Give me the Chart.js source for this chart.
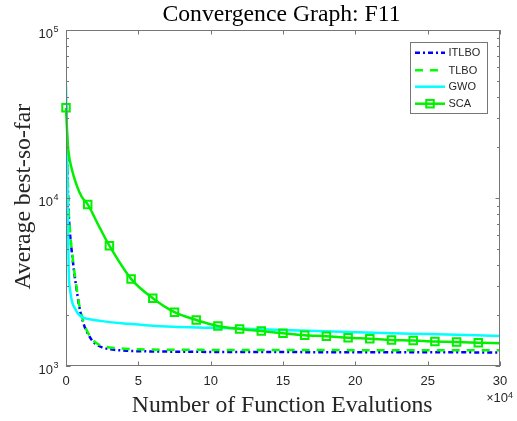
<!DOCTYPE html>
<html><head><meta charset="utf-8">
<script src="https://cdn.jsdelivr.net/npm/chart.js@4/dist/chart.umd.min.js"></script>
<style>html,body{margin:0;padding:0;background:#fff}canvas{display:block}</style>
</head><body>
<canvas id="c" width="517" height="421"></canvas>
<script>
const titleText = 'Convergence Graph: F11';
const xTitle = 'Number of Function Evalutions';
const yTitle = 'Average best-so-far';
const xTickValues = [0, 5, 10, 15, 20, 25, 30];
const xExponent = '4';
const yTickExponents = [3, 4, 5];
const seriesNames = ['ITLBO', 'TLBO', 'GWO', 'SCA'];

// x values in units of 10^4 function evaluations
const itlboX = [0, 0.05, 0.1, 0.16, 0.28, 0.4, 0.55, 0.74, 0.9, 1.08, 1.3, 1.54, 1.8, 2.12, 2.5, 3, 4, 5, 7, 10, 15, 20, 25, 30];
const itlboY = [36000, 25000, 15500, 9200, 6100, 4800, 3700, 2830, 2300, 1960, 1700, 1540, 1420, 1340, 1290, 1260, 1235, 1225, 1218, 1213, 1210, 1208, 1206, 1205];
const tlboX = [0, 0.05, 0.1, 0.16, 0.28, 0.4, 0.55, 0.74, 0.9, 1.08, 1.3, 1.54, 1.8, 2.12, 2.5, 3, 4, 5, 7, 10, 15, 20, 25, 30];
const tlboY = [36000, 25500, 16000, 9600, 6300, 4900, 3800, 2900, 2350, 2000, 1730, 1565, 1445, 1365, 1315, 1290, 1268, 1256, 1250, 1247, 1245, 1243, 1241, 1240];
const gwoX = [0, 0.05, 0.08, 0.12, 0.16, 0.2, 0.28, 0.39, 0.5, 0.62, 0.8, 1.08, 1.54, 2.5, 3.85, 5.5, 7.4, 10, 12, 15, 20, 25, 30];
const gwoY = [47000, 28000, 17000, 9700, 5000, 3400, 2850, 2470, 2300, 2200, 2070, 1960, 1905, 1850, 1794, 1750, 1714, 1690, 1670, 1636, 1590, 1549, 1510];
const scaX = [0, 0.09, 0.16, 0.39, 0.74, 1.08, 1.5, 2.35, 3, 4.5, 6, 7.5, 9, 10.5, 12, 13.5, 15, 16.5, 18, 19.5, 21, 22.5, 24, 25.5, 27, 28.5, 30];
const scaY = [34400, 23700, 19300, 15000, 11900, 10200, 9160, 6610, 5200, 3300, 2530, 2090, 1880, 1730, 1660, 1615, 1566, 1523, 1503, 1473, 1453, 1428, 1416, 1397, 1390, 1377, 1365];
const scaMarkerStep = 1.5;

const axisColor = '#767676';
const textColor = '#262626';
const serif = '"Liberation Serif", "DejaVu Serif", serif';
const sans = '"Liberation Sans", Arial, sans-serif';

function pts(xs, ys) { return xs.map((x, i) => ({ x: x, y: ys[i] })); }
function isMarker(v) { const q = v / scaMarkerStep; return Math.abs(q - Math.round(q)) < 1e-6 && v < 30; }

const styleOf = {
  ITLBO: { color: '#0000ff', dash: [5, 3, 2, 3], width: 2.5 },
  TLBO: { color: '#00ff00', dash: [8, 7], width: 2.5 },
  GWO: { color: '#00ffff', dash: [], width: 2.5 },
  SCA: { color: '#00f000', dash: [], width: 2.5 }
};

function drawSquare(ctx, x, y, color) {
  const s = 3.75;
  ctx.save();
  ctx.setLineDash([]);
  ctx.strokeStyle = color; ctx.lineWidth = 2;
  ctx.strokeRect(x - s, y - s, 2 * s, 2 * s);
  ctx.restore();
}

const framePlugin = {
  id: 'frame',
  afterDraw(chart) {
    const ctx = chart.ctx, a = chart.chartArea, xs = chart.scales.x, ys = chart.scales.y;
    ctx.save();
    ctx.strokeStyle = axisColor; ctx.lineWidth = 1; ctx.setLineDash([]);
    ctx.strokeRect(Math.round(a.left) + 0.5, Math.round(a.top) + 0.5, Math.round(a.right - a.left) - 1, Math.round(a.bottom - a.top) - 1);
    ctx.beginPath();
    xTickValues.forEach(v => {
      const px = Math.round(xs.getPixelForValue(v)) + 0.5;
      ctx.moveTo(px, a.bottom); ctx.lineTo(px, a.bottom - 4.5);
      ctx.moveTo(px, a.top); ctx.lineTo(px, a.top + 4.5);
    });
    yTickExponents.forEach((e, i) => {
      const base = Math.pow(10, e);
      const py = Math.round(ys.getPixelForValue(base)) + 0.5;
      ctx.moveTo(a.left, py); ctx.lineTo(a.left + 4.5, py);
      ctx.moveTo(a.right, py); ctx.lineTo(a.right - 4.5, py);
      if (i < yTickExponents.length - 1) {
        for (let m = 2; m <= 9; m++) {
          const pm = Math.round(ys.getPixelForValue(m * base)) + 0.5;
          ctx.moveTo(a.left, pm); ctx.lineTo(a.left + 3, pm);
          ctx.moveTo(a.right, pm); ctx.lineTo(a.right - 3, pm);
        }
      }
    });
    ctx.stroke();

    ctx.fillStyle = textColor;
    yTickExponents.forEach(e => {
      const py = ys.getPixelForValue(Math.pow(10, e));
      ctx.font = '13px ' + sans; ctx.textAlign = 'right'; ctx.textBaseline = 'alphabetic';
      ctx.fillText('10', 53, py + 8);
      ctx.font = '9px ' + sans; ctx.textAlign = 'left';
      ctx.fillText(String(e), 53.5, py + 2);
    });
    ctx.font = '12px ' + sans; ctx.textAlign = 'left';
    ctx.fillText('\u00d7', 486.5, 402);
    ctx.font = '13px ' + sans;
    ctx.fillText('10', 493.5, 402.3);
    ctx.font = '9px ' + sans;
    ctx.fillText(xExponent, 508, 398);

    ctx.fillStyle = '#000';
    ctx.font = '23.7px ' + serif; ctx.textAlign = 'center'; ctx.textBaseline = 'alphabetic';
    ctx.fillText(titleText, 281.5, 21.3);
    ctx.fillStyle = textColor;
    ctx.fillText(xTitle, 282.2, 411.7);
    ctx.save();
    ctx.translate(29.5, 196.7); ctx.rotate(-Math.PI / 2);
    ctx.fillText(yTitle, 0, 0);
    ctx.restore();

    const L = { x0: 410.5, y0: 42.5, x1: 487.5, y1: 113.5 };
    ctx.fillStyle = '#fff';
    ctx.fillRect(L.x0, L.y0, L.x1 - L.x0, L.y1 - L.y0);
    ctx.strokeStyle = axisColor; ctx.lineWidth = 1;
    ctx.strokeRect(L.x0, L.y0, L.x1 - L.x0, L.y1 - L.y0);
    const rowY = [52.7, 70.3, 86.7, 103.7];
    seriesNames.forEach((n, i) => {
      const st = styleOf[n];
      ctx.save();
      ctx.strokeStyle = st.color; ctx.lineWidth = st.width; ctx.setLineDash(st.dash);
      ctx.beginPath(); ctx.moveTo(415, rowY[i]); ctx.lineTo(445, rowY[i]); ctx.stroke();
      ctx.restore();
      if (n === 'SCA') drawSquare(ctx, 430, rowY[i], st.color);
      ctx.fillStyle = textColor; ctx.font = '11px ' + sans; ctx.textAlign = 'left'; ctx.textBaseline = 'middle';
      ctx.fillText(n, 448.5, rowY[i] + 0.5);
    });
    ctx.restore();
  }
};

const seriesData = { ITLBO: [itlboX, itlboY], TLBO: [tlboX, tlboY], GWO: [gwoX, gwoY], SCA: [scaX, scaY] };
const drawOrder = { ITLBO: 4, TLBO: 3, GWO: 2, SCA: 1 };

const datasets = seriesNames.map(n => {
  const st = styleOf[n];
  const d = {
    label: n,
    data: pts(seriesData[n][0], seriesData[n][1]),
    borderColor: st.color,
    backgroundColor: 'rgba(0,0,0,0)',
    borderWidth: st.width,
    borderDash: st.dash,
    borderCapStyle: 'butt',
    fill: false,
    cubicInterpolationMode: 'monotone',
    pointRadius: 0,
    order: drawOrder[n]
  };
  if (n === 'SCA') {
    d.clip = { left: 8, top: 0, right: 0, bottom: 0 };
    d.pointStyle = 'rect';
    d.pointRadius = ctx => (ctx.raw && isMarker(ctx.raw.x)) ? 5.3 : 0;
    d.pointBorderWidth = 2;
    d.pointBorderColor = st.color;
    d.pointBackgroundColor = 'rgba(0,0,0,0)';
  }
  return d;
});

new Chart(document.getElementById('c').getContext('2d'), {
  type: 'line',
  data: { datasets: datasets },
  options: {
    responsive: false, animation: false, devicePixelRatio: 1,
    layout: { padding: { top: 30, right: 17, left: 0, bottom: 0 } },
    plugins: { legend: { display: false }, tooltip: { enabled: false }, title: { display: false } },
    scales: {
      x: {
        type: 'linear', min: 0, max: 30,
        afterBuildTicks: s => { s.ticks = xTickValues.map(v => ({ value: v })); },
        afterFit: s => { s.height = 55; },
        grid: { display: false, drawTicks: false },
        border: { display: false },
        ticks: { padding: 8, autoSkip: false, maxRotation: 0, color: textColor, font: { family: sans, size: 13 } }
      },
      y: {
        type: 'logarithmic', min: 1000, max: 100000,
        afterBuildTicks: s => { s.ticks = yTickExponents.map(e => ({ value: Math.pow(10, e) })); },
        afterFit: s => { s.width = 66; },
        grid: { display: false, drawTicks: false },
        border: { display: false },
        ticks: { display: false }
      }
    }
  },
  plugins: [framePlugin]
});
</script>
</body></html>
